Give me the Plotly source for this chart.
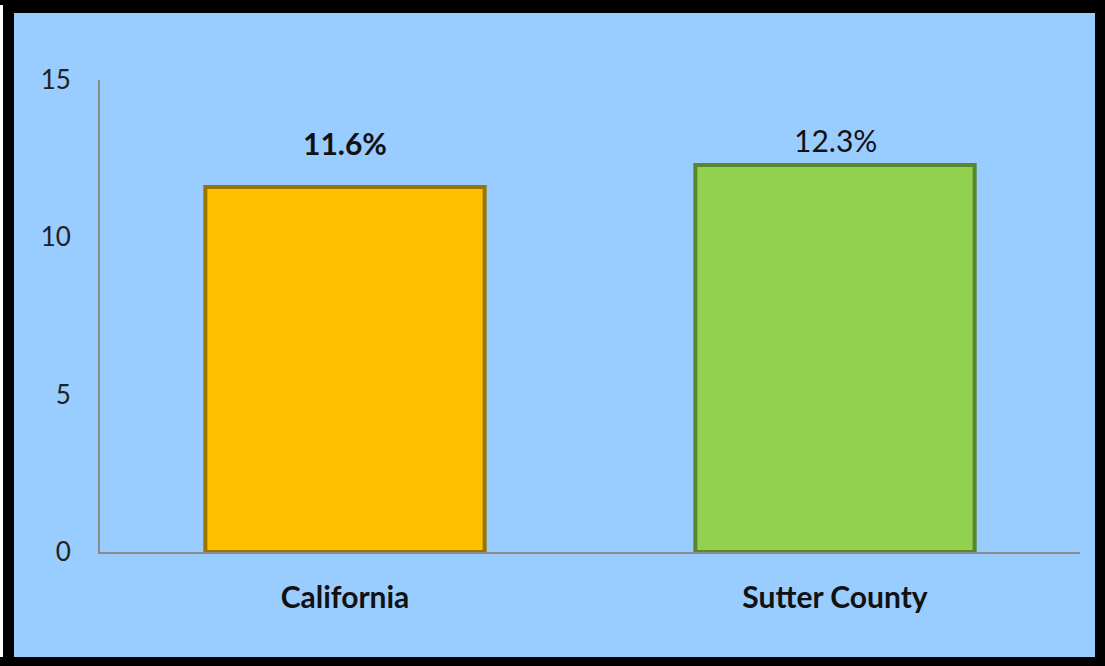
import plotly.graph_objects as go

categories = ["California", "Sutter County"]
values = [11.6, 12.3]
bar_colors = ["#FFC000", "#92D050"]
edge_colors = ["#9A7300", "#5A862C"]
label_bold = [True, False]
label_shift = [24, 5]
y_ticks = [0, 5, 10, 15]

FONT = "Lato"
W, H = 1105, 666
L, R, T, B = 100, 25, 80, 114
PW, PH = W - L - R, H - T - B


def px_x(p):
    return (p - L) / PW


def px_y(p):
    return (H - B - p) / PH


fig = go.Figure()
fig.add_trace(go.Bar(
    x=categories, y=values,
    marker=dict(color=bar_colors, line=dict(color=edge_colors, width=4)),
    hoverinfo="skip",
))

for c, v, b, s in zip(categories, values, label_bold, label_shift):
    t = f"{v}%"
    fig.add_annotation(
        x=c, y=v, text=f"<b>{t}</b>" if b else t, showarrow=False,
        yanchor="bottom", yshift=s,
        font=dict(family=FONT, size=30, color="#111111"),
    )

# light-blue panel inside the black frame
fig.add_shape(type="rect", xref="paper", yref="paper",
              x0=px_x(14), x1=px_x(1095), y0=px_y(657), y1=px_y(13),
              fillcolor="#99CCFF", line=dict(width=0), layer="below")
# thin white strip at far left
fig.add_shape(type="rect", xref="paper", yref="paper",
              x0=px_x(0), x1=px_x(3), y0=px_y(657), y1=px_y(5),
              fillcolor="white", line=dict(width=0), layer="below")

fig.update_layout(
    width=W, height=H,
    margin=dict(l=L, r=R, t=T, b=B),
    paper_bgcolor="black",
    plot_bgcolor="rgba(0,0,0,0)",
    bargap=0.43,
    showlegend=False,
    xaxis=dict(
        showline=True, linecolor="#8C8C8C", linewidth=2,
        showgrid=False, zeroline=False, ticks="",
        tickfont=dict(family=FONT, size=30, color="#111111", weight="bold"),
        ticklabelstandoff=18,
    ),
    yaxis=dict(
        range=[0, 15], tickvals=y_ticks,
        showline=True, linecolor="#8C8C8C", linewidth=2,
        showgrid=False, zeroline=False, ticks="",
        tickfont=dict(family=FONT, size=26, color="#222222"),
        ticklabelstandoff=22,
    ),
)

fig.write_html(
    "out.html",
    config={"displayModeBar": False},
    post_script="document.body.style.margin='0';document.body.style.overflow='hidden';",
)
